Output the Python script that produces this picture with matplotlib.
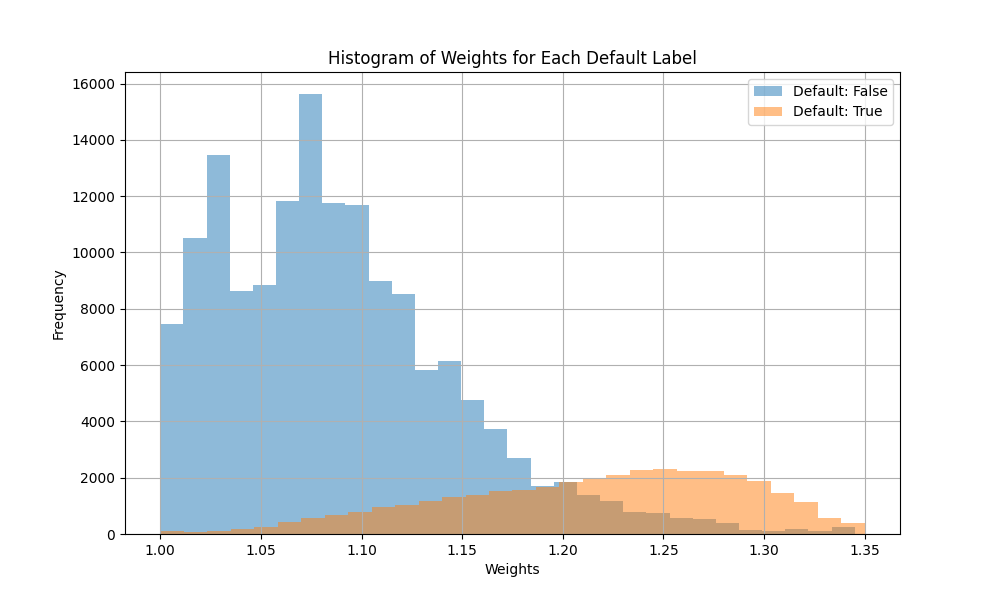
import numpy as np
import matplotlib.pyplot as plt

# bin counts (30 bins each)
false_counts = [7460, 10515, 13463, 8644, 8845, 11829, 15630, 11758, 11687, 8987,
                8526, 5826, 6146, 4757, 3728, 2698, 1704, 1846, 1385, 1172,
                781, 746, 580, 533, 391, 142, 107, 178, 107, 249]
true_counts = [107, 71, 107, 178, 249, 426, 580, 687, 782, 959,
               1030, 1172, 1314, 1380, 1527, 1562, 1669, 1858, 1953, 2095,
               2284, 2308, 2249, 2249, 2095, 1893, 1456, 1136, 580, 391]
false_range = (1.00, 1.345)
true_range = (1.00, 1.35)

false_edges = np.linspace(false_range[0], false_range[1], len(false_counts) + 1)
true_edges = np.linspace(true_range[0], true_range[1], len(true_counts) + 1)
false_mid = (false_edges[:-1] + false_edges[1:]) / 2
true_mid = (true_edges[:-1] + true_edges[1:]) / 2

plt.figure(figsize=(10, 6))
plt.hist(false_mid, bins=false_edges, weights=false_counts, alpha=0.5, label='Default: False')
plt.hist(true_mid, bins=true_edges, weights=true_counts, alpha=0.5, label='Default: True')

plt.title('Histogram of Weights for Each Default Label')
plt.xlabel('Weights')
plt.ylabel('Frequency')
plt.legend()
plt.grid()
plt.savefig('out.png')
